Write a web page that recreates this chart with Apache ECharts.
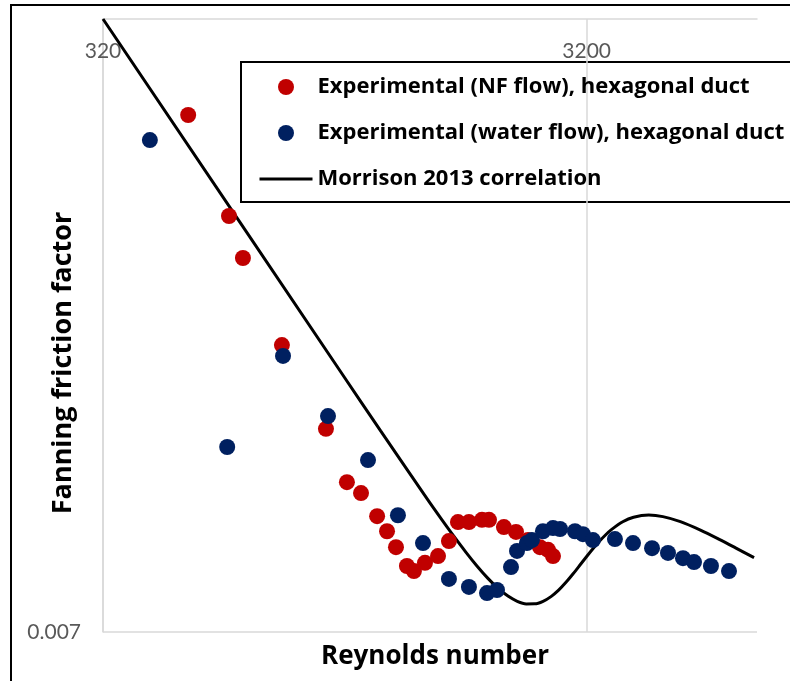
<!DOCTYPE html>
<html><head><meta charset="utf-8">
<script src="https://cdn.jsdelivr.net/npm/echarts@6/dist/echarts.min.js"></script>
<style>html,body{margin:0;padding:0;background:#fff}#c{width:790px;height:681px}</style>
</head><body><div id="c"></div>
<script>
// Experimental (NF flow), hexagonal duct
const nfRe = [480, 583, 623, 750, 925, 1022, 1093, 1180, 1237, 1291, 1360, 1406, 1482, 1577, 1661, 1734, 1827, 1944, 2010, 2158, 2286, 2420, 2562, 2662, 2726];
const nfF  = [0.03675, 0.02658, 0.02323, 0.01757, 0.01343, 0.01132, 0.01093, 0.01015, 0.00967, 0.00919, 0.00865, 0.00851, 0.00874, 0.00893, 0.00937, 0.00996, 0.00996, 0.01003, 0.01003, 0.00980, 0.00965, 0.00940, 0.00919, 0.00911, 0.00893];
// Experimental (water flow), hexagonal duct
const waterRe = [400, 578, 754, 934, 1130, 1303, 1468, 1661, 1827, 1991, 2088, 2232, 2297, 2408, 2466, 2599, 2726, 2819, 3027, 3144, 3297, 3661, 3990, 4368, 4713, 5062, 5335, 5783, 6301];
const waterF  = [0.03391, 0.01267, 0.01697, 0.01399, 0.01215, 0.01018, 0.00931, 0.00830, 0.00809, 0.00793, 0.00801, 0.00862, 0.00908, 0.00931, 0.00940, 0.00967, 0.00977, 0.00974, 0.00967, 0.00958, 0.00940, 0.00943, 0.00931, 0.00916, 0.00902, 0.00887, 0.00876, 0.00865, 0.00851];
// Morrison 2013 correlation
const morrisonRe = [320, 1000, 1200, 1500, 1600, 1700, 1800, 1900, 2000, 2100, 2200, 2300, 2400, 2500, 2600, 2700, 2800, 2900, 3000, 3100, 3200, 3300, 3400, 3500, 3600, 3800, 4000, 4300, 4600, 5000, 5500, 6000, 6500, 7100];
const morrisonF  = [0.05, 0.016, 0.01334, 0.01071, 0.01007, 0.009518, 0.009045, 0.008645, 0.008314, 0.00805, 0.007854, 0.007724, 0.00766, 0.007661, 0.007723, 0.007841, 0.008006, 0.008209, 0.008437, 0.008677, 0.008919, 0.009151, 0.009365, 0.009556, 0.00972, 0.009968, 0.010114, 0.010184, 0.010134, 0.009971, 0.009705, 0.00943, 0.009169, 0.008884];
// ticks
const xTickValues = [320, 3200];
const xTickLabels = ['320', '3200'];
const yTickValues = [0.007];
const yTickLabels = ['0.007'];
const seriesNames = ['Experimental (NF flow), hexagonal duct', 'Experimental (water flow), hexagonal duct', 'Morrison 2013 correlation'];

const zip = (a, b) => a.map((v, i) => [v, b[i]]);
const labelOf = (vals, labs) => v => { let best = 0; vals.forEach((t, i) => { if (Math.abs(Math.log(t / v)) < Math.abs(Math.log(vals[best] / v))) best = i; }); return labs[best]; };
const FONT = 'Lato, "Open Sans", sans-serif';
const BFONT = '"Open Sans", Lato, sans-serif';
const chart = echarts.init(document.getElementById('c'), null, {renderer: 'canvas'});
const option = {
  animation: false,
  backgroundColor: '#fff',
  grid: {left: 103, top: 19, width: 654, height: 613, containLabel: false},
  xAxis: {
    type: 'log', logBase: 10, min: 320, max: 7200, position: 'top',
    axisLine: {show: true, lineStyle: {color: '#d9d9d9', width: 1.5}},
    axisTick: {show: false, customValues: xTickValues},
    axisLabel: {inside: true, margin: 22, color: '#595959', fontSize: 21, fontFamily: FONT, customValues: xTickValues,
      formatter: labelOf(xTickValues, xTickLabels)},
    splitLine: {show: true, lineStyle: {color: '#d9d9d9', width: 1.5}}
  },
  yAxis: {
    type: 'log', logBase: 10, min: 0.007, max: 0.05,
    axisLine: {show: true, lineStyle: {color: '#d9d9d9', width: 1.5}},
    axisTick: {show: false, customValues: yTickValues},
    axisLabel: {margin: 22, color: '#595959', fontSize: 21, fontFamily: FONT, customValues: yTickValues,
      formatter: labelOf(yTickValues, yTickLabels)},
    splitLine: {show: true, lineStyle: {color: '#d9d9d9', width: 1.5}}
  },
  legend: {
    orient: 'vertical', left: 258, top: 76, itemWidth: 53, itemHeight: 16, itemGap: 24, padding: 0,
    textStyle: {fontFamily: BFONT, fontWeight: 'bold', fontSize: 22, color: '#000'},
    data: [
      {name: seriesNames[0]},
      {name: seriesNames[1]},
      {name: seriesNames[2], itemStyle: {opacity: 0}, lineStyle: {width: 3, color: '#000'}}
    ]
  },
  series: [
    {name: seriesNames[0], type: 'scatter', data: zip(nfRe, nfF), symbol: 'circle', symbolSize: 16,
      itemStyle: {color: '#C00000', opacity: 1}, z: 3},
    {name: seriesNames[1], type: 'scatter', data: zip(waterRe, waterF), symbol: 'circle', symbolSize: 16,
      itemStyle: {color: '#002060', opacity: 1}, z: 4},
    {name: seriesNames[2], type: 'line', data: zip(morrisonRe, morrisonF), symbol: 'none', smooth: 0.3,
      lineStyle: {color: '#000', width: 3}, itemStyle: {color: '#000'}, z: 2}
  ],
  graphic: [
    {type: 'rect', shape: {x: 11, y: 5, width: 820, height: 720}, style: {fill: 'none', stroke: '#000', lineWidth: 2}, silent: true, z: 0},
    {type: 'rect', shape: {x: 241, y: 62, width: 600, height: 140}, style: {fill: 'none', stroke: '#000', lineWidth: 2}, silent: true, z: 0},
    {type: 'text', x: 63, y: 363, rotation: Math.PI / 2,
      style: {text: 'Fanning friction factor', font: 'bold 27px ' + BFONT, fill: '#000', textAlign: 'center', textVerticalAlign: 'middle'}},
    {type: 'text', x: 435, y: 657,
      style: {text: 'Reynolds number', font: 'bold 26px ' + BFONT, fill: '#000', textAlign: 'center', textVerticalAlign: 'middle'}}
  ]
};
chart.setOption(option);
</script>
</body></html>
